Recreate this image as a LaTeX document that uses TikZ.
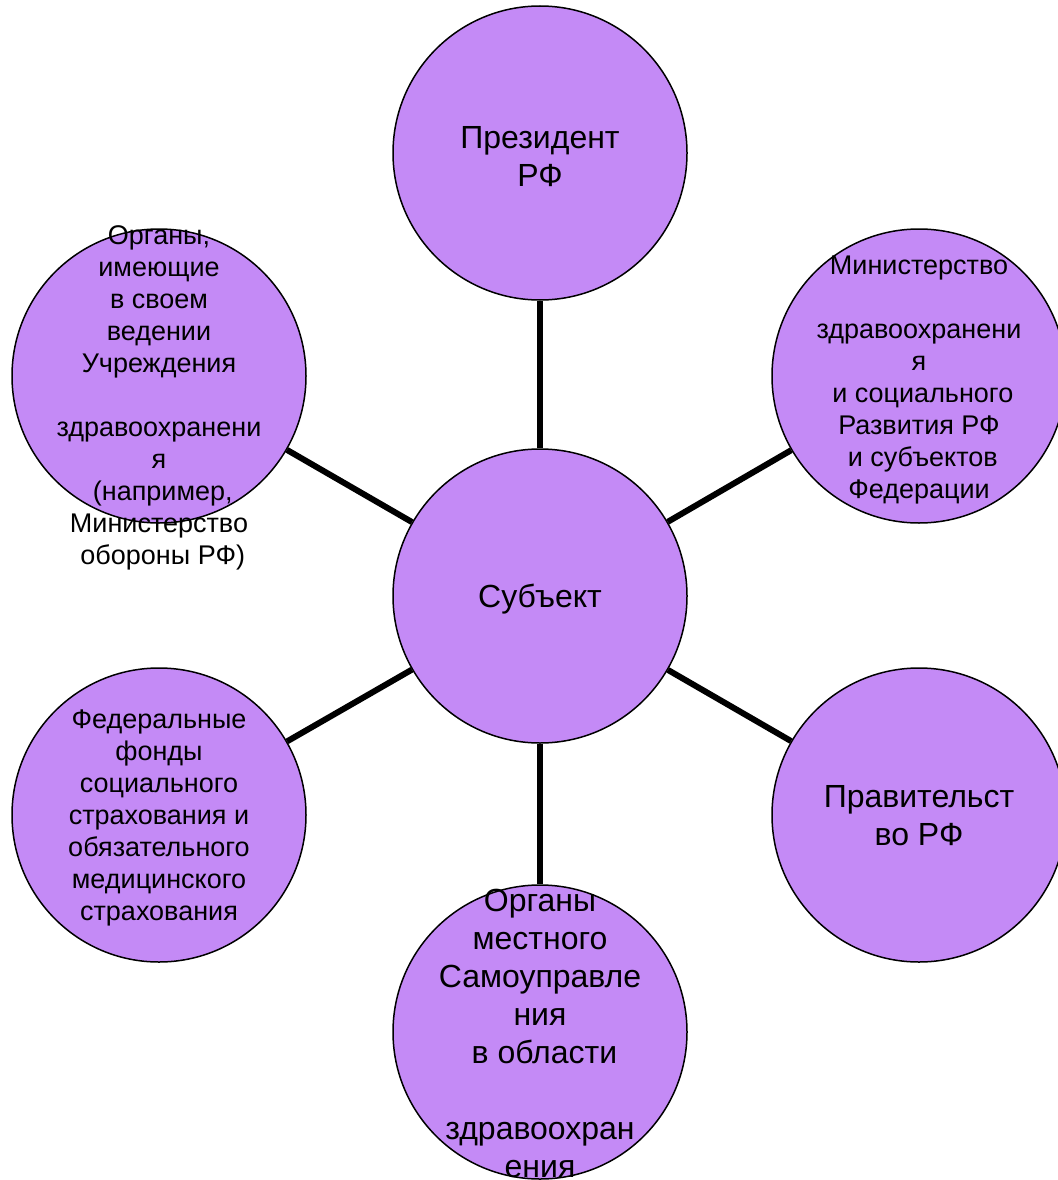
\documentclass[tikz,border=0pt]{standalone}
\usepackage{fontspec}
\setmainfont{Liberation Sans}
\usetikzlibrary{backgrounds}
\definecolor{lav}{RGB}{196,138,246}
\begin{document}
\begin{tikzpicture}[x=1pt,y=-1pt,
  bub/.style={circle, draw=black, line width=1.5pt, fill=lav, minimum size=294pt, inner sep=0pt},
  bigtxt/.style={align=center, inner sep=0pt, anchor=base, font=\fontsize{32}{38}\selectfont},
  smalltxt/.style={align=center, inner sep=0pt, anchor=base, font=\fontsize{27}{32}\selectfont},
  link/.style={line width=6pt, draw=black}]
\useasboundingbox (0,0) rectangle (1057,1180);
\node[bub] (sub)  at (540,596) {};
\node[bub] (pres) at (540,153) {};
\node[bub] (mins) at (919,376) {};
\node[bub] (gov)  at (919,815) {};
\node[bub] (mest) at (540,1032) {};
\node[bub] (fond) at (159,815) {};
\node[bub] (org)  at (159,376) {};

\node[bigtxt] (tsub)  at (540,607) {Субъект};
\node[bigtxt] (tpres) at (540,186) {Президент\\РФ};
\node[bigtxt] (tgov)  at (919,845) {Правительст\\во РФ};
\node[bigtxt] (tmest) at (540,1177) {Органы\\местного\\Самоуправле\\ния\\\ в области\\\\здравоохран\\ения};
\node[smalltxt] (tmins) at (919,498) {Министерство\\\\здравоохранени\\я\\\ и социального\\Развития РФ\\\ и субъектов\\Федерации};
\node[smalltxt] (tfond) at (159,920) {Федеральные\\фонды\\социального\\страхования и\\обязательного\\медицинского\\страхования};
\node[smalltxt] (torg)  at (159,564) {Органы,\\имеющие\\в своем\\ведении\\Учреждения\\\\здравоохранени\\я\\\ (например,\\Министерство\\\ обороны РФ)};

\begin{pgfonlayer}{background}
\draw[link] (sub) -- (pres);
\draw[link] (sub) -- (mins);
\draw[link] (sub) -- (gov);
\draw[link] (sub) -- (mest);
\draw[link] (sub) -- (fond);
\draw[link] (sub) -- (org);
\end{pgfonlayer}
\end{tikzpicture}
\end{document}
